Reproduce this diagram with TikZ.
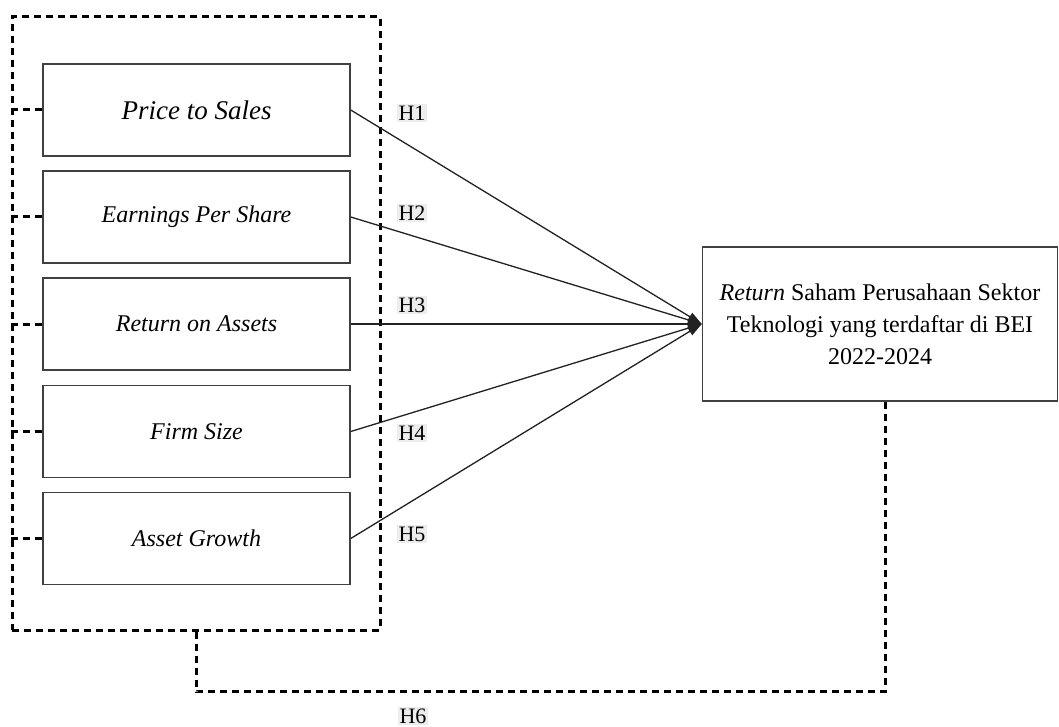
\documentclass[tikz,border=0pt]{standalone}
\usepackage{fontspec}
\setmainfont{Liberation Serif}
\usetikzlibrary{arrows.meta}
\definecolor{boxgray}{HTML}{404040}
\definecolor{linecol}{HTML}{222222}
\definecolor{labelgray}{HTML}{EDEDED}
\begin{document}
\begin{tikzpicture}[x=1pt,y=-1pt,
  varbox/.style={draw=boxgray, line width=1.5pt, minimum width=307pt, minimum height=92pt, inner sep=0pt, font=\fontsize{24}{29}\selectfont\itshape},
  dashline/.style={dash pattern=on 7pt off 5pt, line width=3pt, draw=black},
  hlabel/.style={fill=labelgray, inner sep=1.5pt, font=\fontsize{22}{26}\selectfont},
  link/.style={line width=1.3pt, draw=linecol, -{Triangle[length=14pt,width=9pt]}}
]
\useasboundingbox (0,0) rectangle (1059,727);
\fill[white] (0,0) rectangle (1059,727);

% outer dashed group
\node[dashline, draw, minimum width=368pt, minimum height=613pt, inner sep=0pt] (grp) at (196,323.5) {};

% variable boxes
\node[varbox] (ps) at (196.5,110) {\fontsize{27}{32}\selectfont Price to Sales};
\node[varbox] (eps) at (196.5,217) {Earnings Per Share};
\node[varbox] (roa) at (196.5,324) {Return on Assets};
\node[varbox] (fs) at (196.5,431.5) {Firm Size};
\node[varbox] (ag) at (196.5,538.5) {Asset Growth};

% dependent variable
\node[draw=boxgray, line width=1.5pt, minimum width=355pt, minimum height=154pt, inner sep=0pt, align=center,
  font=\fontsize{24}{32}\selectfont] (ret) at (880,324)
  {\textit{Return} Saham Perusahaan Sektor\\Teknologi yang terdaftar di BEI\\2022-2024};

% stubs
\foreach \b in {ps,eps,roa,fs,ag}{
  \draw[dashline] (grp.west |- \b.west) -- (\b.west);
}

% links
\foreach \b in {ps,eps,roa,fs,ag}{
  \draw[link] (\b.east) -- (ret.west);
}

% labels
\node[hlabel] (h1) at (412,113) {H1};
\node[hlabel] (h2) at (412,213) {H2};
\node[hlabel] (h3) at (412,305) {H3};
\node[hlabel] (h4) at (412,433) {H4};
\node[hlabel] (h5) at (412,534) {H5};
\node[hlabel] (h6) at (413,716) {H6};

% H6 connector
\coordinate (rb) at ([xshift=5pt]ret.south);
\draw[dashline] (grp.south) -- ++(0,60) -| (rb);
\end{tikzpicture}
\end{document}
